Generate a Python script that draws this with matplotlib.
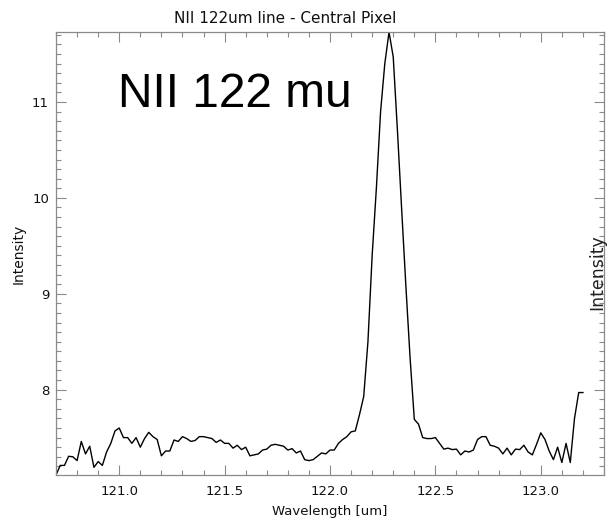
import matplotlib
matplotlib.use("Agg")
import matplotlib.pyplot as plt
from matplotlib.ticker import MultipleLocator
import numpy as np


# Spectrum of the central pixel, sampled every 0.02 um
wave_start = 120.70
wave_step = 0.02
intensity = [
    7.11, 7.21, 7.21, 7.305, 7.30, 7.26, 7.46, 7.33, 7.41, 7.19,
    7.25, 7.21, 7.35, 7.44, 7.57, 7.60, 7.50, 7.50, 7.44, 7.50,
    7.40, 7.49, 7.555, 7.51, 7.48, 7.31, 7.36, 7.36, 7.475, 7.46,
    7.51, 7.49, 7.46, 7.47, 7.51, 7.51, 7.50, 7.49, 7.45, 7.475,
    7.44, 7.44, 7.39, 7.42, 7.375, 7.40, 7.31, 7.32, 7.33, 7.37,
    7.38, 7.42, 7.43, 7.42, 7.41, 7.37, 7.385, 7.34, 7.36, 7.27,
    7.26, 7.27, 7.305, 7.34, 7.33, 7.37, 7.37, 7.44, 7.48, 7.51,
    7.56, 7.57, 7.74, 7.93, 8.50, 9.40, 10.10, 10.90, 11.40, 11.73,
    11.47, 10.70, 9.88, 9.08, 8.33, 7.69, 7.64, 7.50, 7.49, 7.49,
    7.50, 7.44, 7.38, 7.39, 7.375, 7.38, 7.32, 7.36, 7.35, 7.37,
    7.48, 7.51, 7.51, 7.42, 7.41, 7.39, 7.33, 7.39, 7.32, 7.38,
    7.375, 7.42, 7.35, 7.32, 7.43, 7.55, 7.48, 7.36, 7.27, 7.40,
    7.24, 7.44, 7.24, 7.70, 7.97, 7.97,
]
wavelength = np.round(wave_start + wave_step * np.arange(len(intensity)), 2)

W, H = 612, 523
fig = plt.figure(figsize=(W / 100, H / 100), dpi=100)
ax = fig.add_axes([56 / W, 1 - 475 / H, 548 / W, 443 / H])

ax.plot(wavelength, intensity, color='black', linewidth=1.0)

ax.set_xlim(120.70, 123.30)
ax.set_ylim(min(intensity), max(intensity))

ax.xaxis.set_major_locator(MultipleLocator(0.5))
ax.xaxis.set_minor_locator(MultipleLocator(0.1))
ax.yaxis.set_major_locator(MultipleLocator(1))
ax.yaxis.set_minor_locator(MultipleLocator(0.1))
ax.xaxis.set_major_formatter(plt.FormatStrFormatter('%.1f'))

axis_grey = '#8a8a8a'
for s in ax.spines.values():
    s.set_color(axis_grey)
    s.set_linewidth(0.9)
ax.tick_params(which='both', direction='in', top=True, right=True,
               color=axis_grey, width=0.8, labelsize=9.5, labelcolor='#111111')
ax.tick_params(which='major', length=7.5)
ax.tick_params(which='minor', length=3.8)
ax.tick_params(axis='x', pad=7)
ax.tick_params(axis='y', pad=5)

ax.set_xlabel('Wavelength [um]', fontsize=9.5, color='#111111')
ax.xaxis.set_label_coords(0.5, -0.068)
ax.xaxis.label.set_va('top')
ax.set_ylabel('Intensity', fontsize=10, color='#111111')
ax.yaxis.set_label_coords(-0.069, 0.5)
ax.yaxis.label.set_va('center')

# title and overlaid annotations
fig.text(285.5 / W, 1 - 23 / H, 'NII 122um line - Central Pixel',
         fontsize=11, ha='center', va='baseline', color='#111111')
fig.text(118 / W, 1 - 107 / H, 'NII 122 mu', fontsize=34.5,
         family='Liberation Sans', ha='left', va='baseline')
fig.text(597 / W, 1 - 272 / H, 'Intensity', fontsize=12.5, rotation=90,
         ha='center', va='center', color='#222222')

plt.savefig('out.png', dpi=100)
